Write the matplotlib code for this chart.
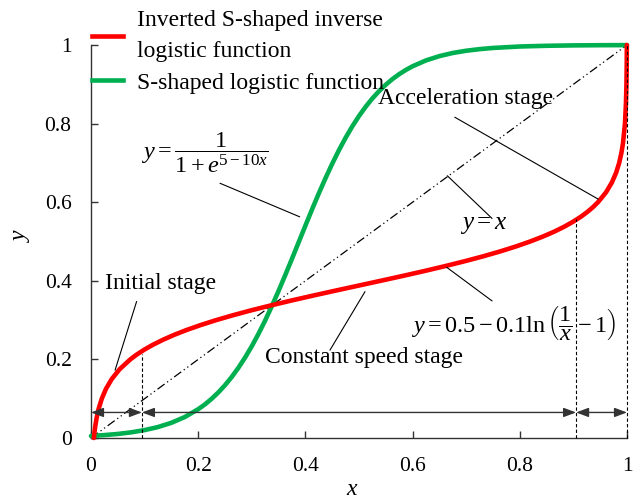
import matplotlib
matplotlib.use("Agg")
import matplotlib.pyplot as plt
from matplotlib.lines import Line2D

# ---------------- data ----------------
# S-shaped logistic curve (green), sampled along x
green_x = [0.0, 0.025, 0.05, 0.075, 0.1, 0.125, 0.15, 0.175, 0.2, 0.2125, 0.225,
           0.2375, 0.25, 0.2625, 0.275, 0.2875, 0.3, 0.3125, 0.325, 0.3375, 0.35,
           0.3625, 0.375, 0.3875, 0.4, 0.4125, 0.425, 0.4375, 0.45, 0.4625, 0.475,
           0.4875, 0.5, 0.5125, 0.525, 0.5375, 0.55, 0.5625, 0.575, 0.5875, 0.6,
           0.625, 0.65, 0.675, 0.7, 0.725, 0.75, 0.8, 0.85, 0.9, 0.95, 1.0]
green_y = [0.0053, 0.0074, 0.0103, 0.0144, 0.0201, 0.0279, 0.0387, 0.0534, 0.0733,
           0.0855, 0.0997, 0.1159, 0.1344, 0.1552, 0.1787, 0.2048, 0.2336, 0.2652,
           0.2993, 0.3359, 0.3745, 0.4148, 0.4562, 0.4983, 0.5404, 0.5820, 0.6224,
           0.6611, 0.6978, 0.7322, 0.7639, 0.7930, 0.8193, 0.8430, 0.8641, 0.8827,
           0.8990, 0.9134, 0.9258, 0.9366, 0.9459, 0.9608, 0.9717, 0.9797, 0.9854,
           0.9895, 0.9925, 0.9962, 0.9980, 0.9990, 0.9995, 0.9997]
# Inverted S-shaped inverse logistic curve (red): mirror image about y = x
red_x = list(green_y)
red_y = list(green_x)

diag_x = [0.0, 1.0]
diag_y = [0.0, 1.0]

# stage boundaries on x and the height of their dashed markers
stage_x = [0.095, 0.905, 1.0]
stage_top = [0.215, 0.556, 1.0]
arrow_level = 0.065

xticks = [0, 0.2, 0.4, 0.6, 0.8, 1]
yticks = [0, 0.2, 0.4, 0.6, 0.8, 1]
tick_labels = ["0", "0.2", "0.4", "0.6", "0.8", "1"]

# ---------------- style ----------------
plt.rcParams["font.family"] = ["Liberation Serif", "DejaVu Serif"]
plt.rcParams["font.size"] = 17
plt.rcParams["mathtext.fontset"] = "custom"
plt.rcParams["mathtext.rm"] = "Liberation Serif"
plt.rcParams["mathtext.it"] = "Liberation Serif:italic"
plt.rcParams["mathtext.bf"] = "Liberation Serif:bold"

RED = "#FF0000"
GREEN = "#00B050"
FS = 17

fig = plt.figure(figsize=(6.33, 4.99), dpi=100)
ax = fig.add_axes([91 / 633, 1 - 438 / 499, 536 / 633, 393 / 499])
ax.set_xlim(0, 1)
ax.set_ylim(0, 1)

for s in ["top", "right"]:
    ax.spines[s].set_visible(False)
for s in ["left", "bottom"]:
    ax.spines[s].set_linewidth(1.0)
    ax.spines[s].set_color("#333333")

ax.set_xticks(xticks)
ax.set_xticklabels(tick_labels)
ax.set_yticks(yticks)
ax.set_yticklabels(tick_labels)
ax.tick_params(direction="in", length=5, width=1, color="#333333",
               labelsize=15.5, pad=14)

ax.set_xlabel(r"$x$", fontsize=17)
ax.set_ylabel(r"$y$", fontsize=17)
ax.xaxis.set_label_coords((352 - 91) / 536, -0.105)
ax.yaxis.set_label_coords(-0.11, 0.517)

# diagonal y = x (dash-dot-dot)
ax.plot(diag_x, diag_y, color="black", lw=0.9,
        linestyle=(0, (7, 2.5, 1, 2.5, 1, 2.5)), zorder=2)

# curves
ax.plot(green_x, green_y, color=GREEN, lw=3.3, solid_capstyle="round",
        clip_on=False, zorder=3)
ax.plot(red_x, red_y, color=RED, lw=3.3, solid_capstyle="round",
        clip_on=False, zorder=4)

# dashed stage boundaries
for sx, st in zip(stage_x, stage_top):
    ax.plot([sx, sx], [0, st], color="black", lw=0.8,
            linestyle=(0, (3, 2)), zorder=5, clip_on=False)

# double arrows showing the stages
bounds = [0.0] + stage_x
for a, b in zip(bounds[:-1], bounds[1:]):
    ax.annotate("", xy=(b, arrow_level), xytext=(a, arrow_level),
                arrowprops=dict(arrowstyle="<|-|>,head_length=0.75,head_width=0.28",
                                color="#333333", lw=1.0, shrinkA=0, shrinkB=0,
                                mutation_scale=10),
                zorder=6)

# leader lines
leaders = [
    ((0.085, 0.347), (0.045, 0.173)),   # Initial stage
    ((0.511, 0.372), (0.446, 0.224)),   # Constant speed stage
    ((0.241, 0.648), (0.389, 0.563)),   # logistic formula
    ((0.679, 0.816), (0.946, 0.608)),   # Acceleration stage
    ((0.665, 0.667), (0.748, 0.559)),   # y = x
    ((0.664, 0.434), (0.748, 0.349)),   # inverse logistic formula
]
for (x0, y0), (x1, y1) in leaders:
    ax.plot([x0, x1], [y0, y1], color="black", lw=0.8, zorder=6)

# texts
ax.text(0.026, 0.394, "Initial stage", ha="left", va="center", fontsize=FS)
ax.text(0.325, 0.206, "Constant speed stage", ha="left", va="center", fontsize=FS)
ax.text(0.536, 0.865, "Acceleration stage", ha="left", va="center", fontsize=FS)
ax.text(0.093, 0.727, r"$y=\dfrac{1}{1+e^{5-10x}}$", ha="left", va="center",
        fontsize=17.5)
ax.text(0.733, 0.542, r"$y=x$", ha="center", va="center", fontsize=18)
ax.text(0.597, 0.293, r"$y=0.5-0.1\ln\left(\dfrac{1}{x}-1\right)$",
        ha="left", va="center", fontsize=17.5)

# legend
handles = [Line2D([], [], color=RED, lw=3.3),
           Line2D([], [], color=GREEN, lw=3.3)]
labels = ["Inverted S-shaped inverse\nlogistic function",
          "S-shaped logistic function"]
leg = fig.legend(handles, labels, loc="upper left",
                 bbox_to_anchor=(92 / 633, 1 - 10 / 499),
                 frameon=False, borderpad=0, borderaxespad=0,
                 handlelength=1.3, handletextpad=0.6, labelspacing=0.45,
                 fontsize=FS)
leg.get_texts()[0].set_linespacing(1.6)

fig.savefig("out.png", dpi=100)
